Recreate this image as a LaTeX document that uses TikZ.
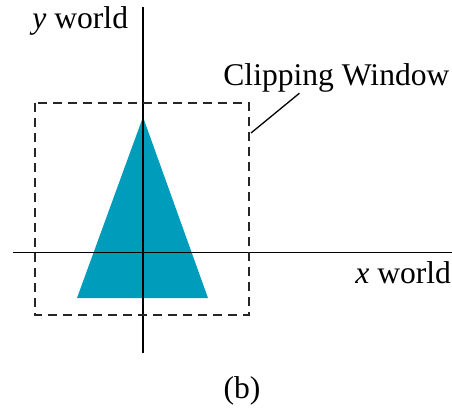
\documentclass[tikz,border=0pt]{standalone}
\usepackage{fontspec}
\setmainfont{Liberation Serif}
\usetikzlibrary{positioning}
\definecolor{tealfill}{RGB}{0,156,187}
\tikzset{
  axis/.style={line width=0.65pt,black},
  clipwin/.style={line width=0.6pt,dash pattern=on 4.5pt off 3pt,black!85},
  lead/.style={line width=0.65pt,black},
  lbl/.style={font=\fontsize{15.8}{18}\selectfont,inner sep=0pt},
}
\begin{document}
\begin{tikzpicture}[x=0.5pt,y=-0.5pt]
  \useasboundingbox (0,0) rectangle (452,408);
  % axes
  \coordinate (ytop) at (143,7);
  \coordinate (ybot) at (143,353);
  \coordinate (xlft) at (13,252.5);
  \coordinate (xrgt) at (452,252.5);
  % triangle
  \coordinate (apex) at (143,117);
  \coordinate (bl) at (77,298);
  \coordinate (br) at (208,298);
  \fill[tealfill] (apex) -- (bl) -- (br) -- cycle;
  \draw[axis] (ytop) -- (ybot);
  \draw[axis] (xlft) -- (xrgt);
  % clipping window
  \draw[clipwin] (35,103) rectangle (249,315);
  \coordinate (wedge) at (251,133);
  % labels
  \node[lbl,anchor=base west] (ylbl) at (32,28) {\textit{y} world};
  \node[lbl,anchor=base west] (xlbl) at (355,283) {\textit{x} world};
  \node[lbl,anchor=base west] (cwlbl) at (223,85) {Clipping Window};
  \node[lbl,anchor=base] (cap) at (242,398) {(b)};
  \draw[lead] (wedge) -- ([xshift=-18.5pt,yshift=-0.5pt]cwlbl.south);
\end{tikzpicture}
\end{document}
